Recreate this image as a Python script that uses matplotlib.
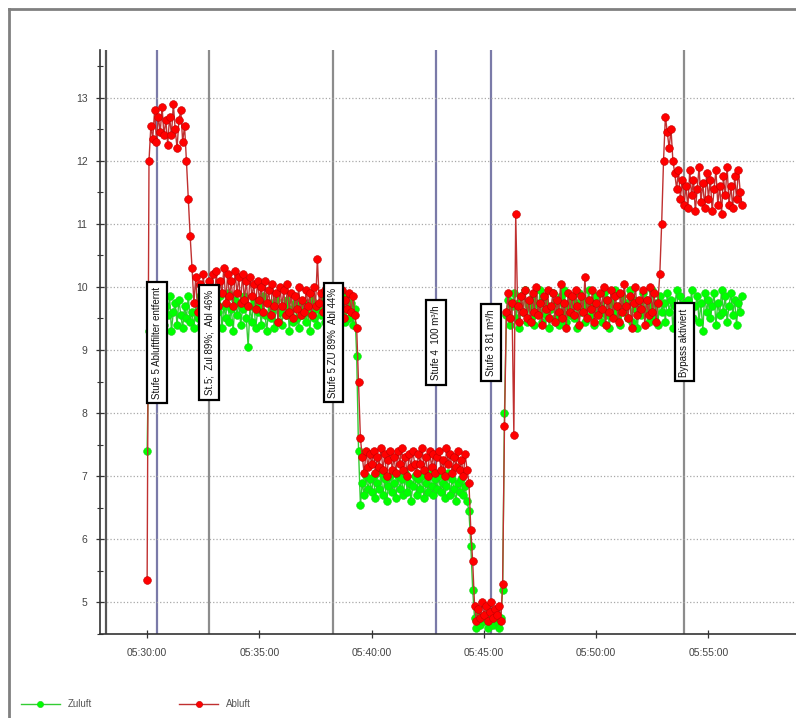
import numpy as np
import pandas as pd
import matplotlib
matplotlib.use("Agg")
import matplotlib.pyplot as plt
import matplotlib.dates as mdates
from matplotlib.lines import Line2D

plt.rcParams['font.family'] = ['Liberation Sans', 'DejaVu Sans']

# Messwerte alle 5 s ab 05:30:00 (eine Zeile = eine Minute)
start_zeit = '2000-01-01 05:30:00'
abluft = [
    5.35, 12.0, 12.55, 12.35, 12.8, 12.3, 12.7, 12.45, 12.85, 12.4, 12.65, 12.25,
    12.7, 12.4, 12.9, 12.5, 12.2, 12.65, 12.8, 12.3, 12.55, 12.0, 11.4, 10.8,
    10.3, 9.75, 10.15, 9.6, 10.05, 9.7, 10.2, 9.8, 9.55, 10.1, 9.75, 10.2,
    9.8, 10.25, 9.7, 10.1, 9.9, 10.3, 9.75, 10.2, 9.85, 10.1, 9.7, 10.25,
    9.9, 10.15, 9.75, 10.2, 9.8, 10.1, 9.7, 10.15, 9.85, 10.05, 9.65, 10.1,
    9.8, 10.0, 9.6, 10.1, 9.75, 9.95, 9.55, 10.05, 9.7, 9.9, 9.45, 10.0,
    9.7, 9.95, 9.55, 10.05, 9.6, 9.9, 9.5, 9.85, 9.65, 10.0, 9.55, 9.8,
    9.6, 9.95, 9.7, 9.9, 9.55, 10.0, 9.7, 10.45, 9.75, 9.9, 9.6, 9.95,
    9.75, 9.55, 9.9, 9.65, 10.0, 9.6, 9.85, 9.7, 9.95, 9.5, 9.8, 9.65,
    9.9, 9.6, 9.85, 9.55, 9.35, 8.5, 7.6, 7.3, 7.05, 7.4, 7.15, 7.35,
    7.2, 7.4, 7.05, 7.3, 7.15, 7.45, 7.1, 7.35, 7.0, 7.25, 7.4, 7.1,
    7.3, 7.05, 7.4, 7.2, 7.45, 7.1, 7.3, 7.0, 7.35, 7.15, 7.4, 7.2,
    7.05, 7.35, 7.2, 7.45, 7.1, 7.3, 7.0, 7.4, 7.15, 7.35, 7.05, 7.3,
    7.4, 7.1, 7.25, 7.0, 7.45, 7.2, 7.35, 7.05, 7.3, 7.15, 7.4, 7.1,
    7.25, 7.0, 7.35, 7.1, 6.9, 6.15, 5.65, 4.95, 4.7, 4.9, 4.75, 5.0,
    4.8, 4.95, 4.7, 4.85, 5.0, 4.75, 4.9, 4.8, 4.95, 4.7, 5.3, 7.8,
    9.6, 9.9, 9.5, 9.75, 7.65, 11.15, 9.7, 9.45, 9.85, 9.6, 9.95, 9.5,
    9.8, 9.45, 9.9, 9.6, 10.0, 9.55, 9.75, 9.4, 9.85, 9.65, 9.95, 9.5,
    9.7, 9.9, 9.45, 9.8, 9.6, 10.05, 9.5, 9.75, 9.35, 9.9, 9.6, 9.85,
    9.55, 9.95, 9.7, 9.4, 9.85, 9.6, 10.15, 9.5, 9.8, 9.65, 9.95, 9.45,
    9.75, 9.55, 9.9, 9.65, 10.0, 9.4, 9.8, 9.6, 9.95, 9.5, 9.85, 9.7,
    9.45, 9.9, 9.6, 10.05, 9.7, 9.5, 9.85, 9.35, 9.75, 10.0, 9.55, 9.8,
    9.65, 9.95, 9.4, 9.8, 9.55, 10.0, 9.6, 9.9, 9.45, 9.75, 10.2, 11.0,
    12.0, 12.7, 12.45, 12.2, 12.5, 12.0, 11.8, 11.55, 11.85, 11.4, 11.7, 11.3,
    11.6, 11.25, 11.85, 11.45, 11.7, 11.2, 11.55, 11.9, 11.35, 11.65, 11.25, 11.8,
    11.4, 11.7, 11.2, 11.55, 11.85, 11.3, 11.6, 11.15, 11.75, 11.45, 11.9, 11.3,
    11.6, 11.25, 11.75, 11.4, 11.85, 11.5, 11.3,
]
zuluft = [
    7.4, 9.3, 9.6, 9.45, 9.75, 9.35, 9.65, 9.5, 9.8, 9.4, 9.7, 9.55,
    9.85, 9.3, 9.6, 9.75, 9.4, 9.8, 9.55, 9.35, 9.7, 9.5, 9.85, 9.45,
    9.6, 9.35, 9.75, 9.5, 9.85, 9.4, 9.65, 9.3, 9.8, 9.55, 9.7, 9.45,
    9.75, 9.4, 9.6, 9.85, 9.35, 9.7, 9.5, 9.9, 9.45, 9.65, 9.3, 9.8,
    9.55, 9.75, 9.4, 9.65, 9.85, 9.5, 9.05, 9.7, 9.45, 9.8, 9.35, 9.6,
    9.7, 9.4, 9.85, 9.55, 9.3, 9.75, 9.5, 9.65, 9.35, 9.8, 9.45, 9.6,
    9.4, 9.7, 9.55, 9.8, 9.3, 9.65, 9.45, 9.75, 9.5, 9.35, 9.7, 9.55,
    9.75, 9.45, 9.6, 9.3, 9.8, 9.5, 9.65, 9.4, 9.7, 9.55, 9.85, 9.45,
    9.6, 9.8, 9.4, 9.7, 9.5, 9.75, 9.35, 9.65, 9.55, 9.85, 9.45, 9.7,
    9.5, 9.75, 9.4, 9.65, 8.9, 7.4, 6.55, 6.9, 6.7, 7.0, 6.8, 6.95,
    6.75, 7.0, 6.65, 6.9, 6.8, 7.05, 6.7, 6.95, 6.6, 6.85, 7.0, 6.75,
    6.9, 6.65, 7.0, 6.8, 6.95, 6.7, 7.05, 6.75, 6.9, 6.6, 6.85, 7.0,
    6.7, 6.95, 6.8, 7.0, 6.65, 6.9, 6.75, 7.05, 6.85, 6.7, 6.95, 6.8,
    7.0, 6.75, 6.9, 6.65, 6.85, 7.05, 6.7, 6.95, 6.8, 6.6, 6.9, 6.75,
    6.95, 6.7, 6.85, 6.6, 6.45, 5.9, 5.2, 4.75, 4.6, 4.8, 4.65, 4.75,
    4.7, 4.8, 4.6, 4.75, 4.85, 4.65, 4.8, 4.7, 4.6, 4.75, 5.2, 8.0,
    9.55, 9.8, 9.4, 9.7, 9.9, 9.5, 9.75, 9.35, 9.85, 9.6, 9.95, 9.45,
    9.7, 9.5, 9.85, 9.4, 9.75, 9.6, 9.95, 9.45, 9.8, 9.55, 9.7, 9.35,
    9.65, 9.9, 9.5, 9.75, 9.4, 9.85, 9.6, 9.95, 9.45, 9.7, 9.55, 9.8,
    9.5, 9.75, 9.35, 9.9, 9.6, 9.8, 9.45, 9.7, 9.95, 9.55, 9.75, 9.4,
    9.85, 9.6, 9.7, 9.45, 9.9, 9.55, 9.8, 9.35, 9.75, 9.6, 9.95, 9.5,
    9.7, 9.4, 9.85, 9.6, 9.75, 9.5, 9.95, 9.45, 9.8, 9.65, 9.35, 9.75,
    9.55, 9.9, 9.6, 9.8, 9.45, 9.7, 9.95, 9.5, 9.75, 9.4, 9.85, 9.6,
    9.75, 9.45, 9.9, 9.6, 9.8, 9.35, 9.7, 9.95, 9.5, 9.85, 9.55, 9.75,
    9.4, 9.8, 9.6, 9.95, 9.5, 9.7, 9.85, 9.45, 9.75, 9.3, 9.9, 9.6,
    9.8, 9.5, 9.7, 9.9, 9.4, 9.75, 9.55, 9.95, 9.6, 9.85, 9.45, 9.7,
    9.9, 9.55, 9.8, 9.4, 9.75, 9.6, 9.85,
]

# Ereignisse (senkrechte Linien) mit Beschriftung
ereignis_zeiten = ['05:28:10', '05:30:27', '05:32:46', '05:38:18', '05:42:51', '05:45:18', '05:53:56']
ereignis_texte = ['', 'Stufe 5 Abluftfilter entfernt', 'St.5;  Zul 89%;  Abl 46%',
                  'Stufe 5 ZU 89%  Abl 44%', 'Stufe 4  100 m³/h', 'Stufe 3 81 m³/h',
                  'Bypass aktiviert']
ereignis_farben = ['#555555', '#7a7aa8', '#8c8c8c', '#8c8c8c', '#7a7aa8', '#7a7aa8', '#8c8c8c']

zeiten = pd.date_range(start_zeit, periods=len(abluft), freq='5s')

fig = plt.figure(figsize=(7.96, 7.18), dpi=100)
ax = fig.add_axes([0.1256, 0.117, 0.8744, 0.813])

# Rahmen um das Bild
fig.add_artist(Line2D([0.011, 0.011], [0.0, 0.987], color='#808080', lw=2, transform=fig.transFigure))
fig.add_artist(Line2D([0.011, 1.0], [0.987, 0.987], color='#808080', lw=2, transform=fig.transFigure))

for zt, farbe in zip(ereignis_zeiten, ereignis_farben):
    ax.axvline(pd.Timestamp('2000-01-01 ' + zt), color=farbe, lw=1.6, zorder=1)

ax.plot(zeiten, zuluft, color='#33cc33', lw=1.0, marker='o', ms=5.6,
        mfc='#00ff00', mec='#22cc22', mew=0.4, zorder=3, label='Zuluft')
ax.plot(zeiten, abluft, color='#c03030', lw=1.0, marker='o', ms=5.6,
        mfc='#ff0000', mec='#c00000', mew=0.4, zorder=4, label='Abluft')

for zt, txt in zip(ereignis_zeiten, ereignis_texte):
    if txt:
        ax.text(pd.Timestamp('2000-01-01 ' + zt), 9.12, txt, rotation=90, ha='center', va='center',
                fontsize=7, color='#111111', zorder=6,
                bbox=dict(boxstyle='square,pad=0.5', fc='white', ec='black', lw=1.6))

ax.set_xlim(pd.Timestamp('2000-01-01 05:27:54'), pd.Timestamp('2000-01-01 05:58:54'))
ax.set_ylim(4.5, 13.75)

ax.xaxis.set_major_locator(mdates.MinuteLocator(byminute=range(0, 60, 5)))
ax.xaxis.set_major_formatter(mdates.DateFormatter('%H:%M:%S'))
ax.yaxis.set_major_locator(plt.MultipleLocator(1))
ax.yaxis.set_minor_locator(plt.MultipleLocator(0.5))

ax.grid(True, axis='y', which='major', linestyle=':', color='#a8a8a8', lw=0.9)
ax.tick_params(axis='both', which='major', direction='inout', length=6, width=0.9,
               colors='#333333', labelsize=7.5, labelcolor='#444444')
ax.tick_params(axis='y', which='minor', direction='inout', length=4, width=0.8, colors='#333333')
ax.tick_params(axis='x', pad=7)
ax.tick_params(axis='y', pad=6)

for s in ['top', 'right']:
    ax.spines[s].set_visible(False)
for s in ['left', 'bottom']:
    ax.spines[s].set_color('#333333')
    ax.spines[s].set_linewidth(1.2)

leg = fig.legend(loc='lower left', bbox_to_anchor=(0.015, 0.0), ncol=2, frameon=False,
                 fontsize=7, columnspacing=9, handlelength=4, markerscale=0.8)
for t in leg.get_texts():
    t.set_color('#555555')

fig.savefig('out.png', dpi=100)
